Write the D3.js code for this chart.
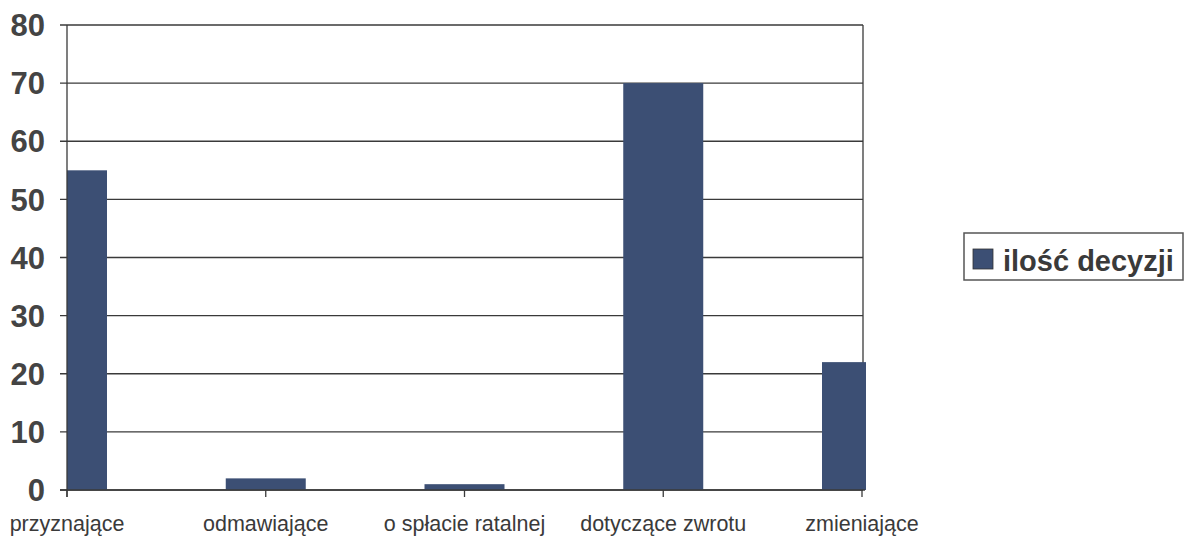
<!DOCTYPE html>
<html><head><meta charset="utf-8">
<script src="https://cdn.jsdelivr.net/npm/d3@7"></script>
<style>html,body{margin:0;padding:0;background:#fff;}</style>
</head><body>
<script>
const categories = ["przyznające", "odmawiające", "o spłacie ratalnej", "dotyczące zwrotu", "zmieniające"];
const values = [55, 2, 1, 70, 22];
const seriesName = "ilość decyzji";
const yTicks = [0, 10, 20, 30, 40, 50, 60, 70, 80];

(function () {
const W = 1195, H = 541;
const pLeft = 67, pRight = 863, pTop = 25, pBottom = 490;
const barColor = "#3c4f74";
const lineColor = "#3a3a3a";
const textColor = "#3a3a3a";

const svg = d3.select("body").append("svg").attr("width", W).attr("height", H);

const x = d3.scalePoint().domain(categories).range([pLeft, pRight - 1]);
const y = d3.scaleLinear().domain([0, 80]).range([pBottom, pTop]);
const barW = 80;

svg.append("clipPath").attr("id", "clip").append("rect")
  .attr("x", pLeft).attr("y", pTop - 2).attr("width", pRight - pLeft + 3).attr("height", pBottom - pTop + 4);

svg.append("g").selectAll("line").data(yTicks).join("line")
  .attr("x1", pLeft - 7).attr("x2", pRight)
  .attr("y1", d => y(d)).attr("y2", d => y(d))
  .attr("stroke", lineColor).attr("stroke-width", 1.3);

svg.append("line").attr("x1", pRight).attr("x2", pRight).attr("y1", pTop).attr("y2", pBottom)
  .attr("stroke", lineColor).attr("stroke-width", 1.3);

svg.append("g").attr("clip-path", "url(#clip)").selectAll("rect").data(values).join("rect")
  .attr("x", (d, i) => x(categories[i]) - barW / 2)
  .attr("width", barW)
  .attr("y", d => y(d))
  .attr("height", d => pBottom - y(d))
  .attr("fill", barColor);

svg.append("line").attr("x1", pLeft).attr("x2", pLeft).attr("y1", pTop).attr("y2", pBottom + 7)
  .attr("stroke", lineColor).attr("stroke-width", 1.3);

svg.append("line").attr("x1", pLeft - 7).attr("x2", pRight + 2).attr("y1", pBottom).attr("y2", pBottom)
  .attr("stroke", lineColor).attr("stroke-width", 1.5);

svg.append("g").selectAll("line").data(categories).join("line")
  .attr("x1", d => x(d)).attr("x2", d => x(d))
  .attr("y1", pBottom).attr("y2", pBottom + 7)
  .attr("stroke", lineColor).attr("stroke-width", 1.3);

svg.append("g").selectAll("text").data(yTicks).join("text")
  .attr("x", 45).attr("y", d => y(d))
  .attr("dy", "0.36em")
  .attr("text-anchor", "end")
  .attr("font-family", "Liberation Sans, Arial, sans-serif")
  .attr("font-weight", "bold").attr("font-size", 31)
  .attr("fill", "#444")
  .text(d => d);

svg.append("g").selectAll("text").data(categories).join("text")
  .attr("x", d => x(d)).attr("y", 531)
  .attr("text-anchor", "middle")
  .attr("font-family", "Liberation Sans, Arial, sans-serif")
  .attr("font-size", 21.5)
  .attr("fill", textColor)
  .text(d => d);

const lg = svg.append("g");
lg.append("rect").attr("x", 964).attr("y", 233).attr("width", 219).attr("height", 47)
  .attr("fill", "#fff").attr("stroke", "#555").attr("stroke-width", 1.5);
lg.append("rect").attr("x", 973).attr("y", 249).attr("width", 20).attr("height", 20)
  .attr("fill", barColor).attr("stroke", "#333").attr("stroke-width", 0.8);
lg.append("text").attr("x", 1003).attr("y", 271)
  .attr("font-family", "Liberation Sans, Arial, sans-serif")
  .attr("font-weight", "bold").attr("font-size", 29)
  .attr("fill", "#3a3a3a")
  .text(seriesName);
})();
</script>
</body></html>
